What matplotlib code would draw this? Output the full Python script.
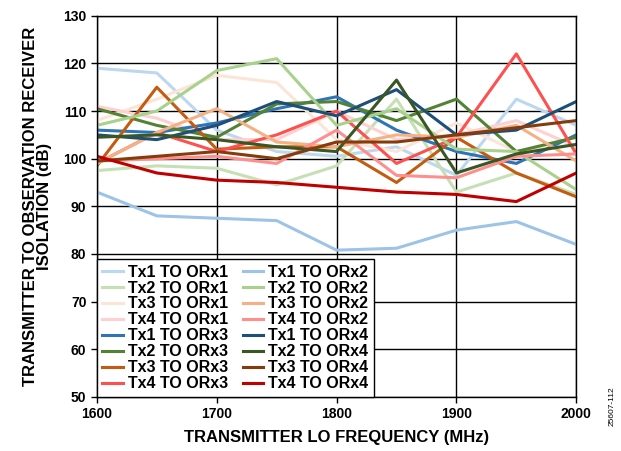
import numpy as np
import matplotlib
matplotlib.use("Agg")
import matplotlib.pyplot as plt

plt.rcParams['font.family'] = ['Liberation Sans', 'DejaVu Sans']
plt.rcParams['font.weight'] = 'bold'

freq = [1600, 1650, 1700, 1750, 1800, 1850, 1900, 1950, 2000]

tx1_orx1 = [119, 118, 106, 101.5, 100.5, 102.5, 96.5, 112.5, 107]
tx2_orx1 = [97.5, 98.5, 98, 94.5, 98.5, 112.5, 93, 97, 92.5]
tx3_orx1 = [108, 112.5, 117.5, 116, 104, 101.5, 107.5, 101.5, 103]
tx4_orx1 = [111, 108.5, 104, 104, 110, 104, 105, 108, 102.5]
tx1_orx2 = [93, 88, 87.5, 87, 80.8, 81.2, 85, 86.8, 82]
tx2_orx2 = [107, 110, 118.5, 121, 107, 110.5, 102, 101.5, 93.5]
tx3_orx2 = [99, 105.5, 110.5, 103.5, 102.5, 105, 104.5, 107, 99.5]
tx4_orx2 = [99.5, 100, 100.5, 99, 106, 96.5, 96, 100.5, 101]
tx1_orx3 = [106, 105.5, 107.5, 110.5, 113, 106, 101.5, 99, 105]
tx2_orx3 = [110.5, 107, 104.5, 111.5, 112, 108, 112.5, 101.5, 104.5]
tx3_orx3 = [98.5, 115, 102, 102.5, 102.5, 95, 104.5, 97, 92]
tx4_orx3 = [99, 105.5, 101.5, 105, 110, 99, 104.5, 122, 101]
tx1_orx4 = [105, 104, 107, 112, 109, 114.5, 105, 106, 112]
tx2_orx4 = [104.5, 105, 104, 102.5, 101.5, 116.5, 97, 101, 103]
tx3_orx4 = [99.5, 100.5, 101.5, 100, 103.5, 103.5, 105, 106.5, 108]
tx4_orx4 = [100.5, 97, 95.5, 95, 94, 93, 92.5, 91, 97]

# legend column order: ORx1/ORx3 on the left, ORx2/ORx4 on the right
series = [
    ("Tx1 TO ORx1", tx1_orx1, "#bdd7ee"),
    ("Tx2 TO ORx1", tx2_orx1, "#c5e0b4"),
    ("Tx3 TO ORx1", tx3_orx1, "#fbe5d6"),
    ("Tx4 TO ORx1", tx4_orx1, "#ffd0d0"),
    ("Tx1 TO ORx3", tx1_orx3, "#2e75b6"),
    ("Tx2 TO ORx3", tx2_orx3, "#548235"),
    ("Tx3 TO ORx3", tx3_orx3, "#c55a11"),
    ("Tx4 TO ORx3", tx4_orx3, "#ff5050"),
    ("Tx1 TO ORx2", tx1_orx2, "#9dc3e6"),
    ("Tx2 TO ORx2", tx2_orx2, "#a9d18e"),
    ("Tx3 TO ORx2", tx3_orx2, "#f4b183"),
    ("Tx4 TO ORx2", tx4_orx2, "#ff8f8f"),
    ("Tx1 TO ORx4", tx1_orx4, "#1f4e79"),
    ("Tx2 TO ORx4", tx2_orx4, "#385723"),
    ("Tx3 TO ORx4", tx3_orx4, "#843c0c"),
    ("Tx4 TO ORx4", tx4_orx4, "#c00000"),
]

fig = plt.figure(figsize=(6.21, 4.51), dpi=100)
ax = fig.add_axes([0.156, 0.12, 0.772, 0.845])

for name, vals, col in series:
    ax.plot(freq, vals, color=col, lw=2.2, label=name)

ax.set_xlim(1600, 2000)
ax.set_ylim(50, 130)
ax.set_xticks([1600, 1700, 1800, 1900, 2000])
ax.set_yticks(np.arange(50, 131, 10))
ax.grid(True, color='black', lw=1)
ax.set_axisbelow(True)
for s in ax.spines.values():
    s.set_color('black')
    s.set_linewidth(1)
ax.tick_params(labelsize=10, length=4, width=1, color='black')
for lab in ax.get_xticklabels() + ax.get_yticklabels():
    lab.set_fontweight('bold')

ax.set_xlabel("TRANSMITTER LO FREQUENCY (MHz)", fontsize=12,
              fontweight='bold', labelpad=6)
ax.set_ylabel("TRANSMITTER TO OBSERVATION RECEIVER\nISOLATION (dB)",
              fontsize=12, fontweight='bold', linespacing=0.9, labelpad=8)

leg = ax.legend(loc='lower left', ncol=2, fontsize=11.5, frameon=True,
                fancybox=False, framealpha=1, edgecolor='black',
                borderaxespad=0, handlelength=1.3, handletextpad=0.3,
                columnspacing=0.9, labelspacing=0.06, borderpad=0.35)
leg.get_frame().set_linewidth(1)
for t in leg.get_texts():
    t.set_fontweight('bold')

fig.text(0.985, 0.1, "25607-112", rotation=90, fontsize=6,
         fontweight='normal', ha='center', va='center')

fig.savefig("out.png", dpi=100)
